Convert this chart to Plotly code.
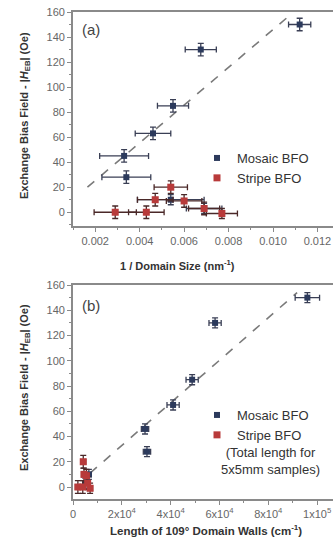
import plotly.graph_objects as go

W, H = 333, 549

# ---- Panel (a): 1 / Domain size ----
a_mosaic_x = [0.0112, 0.00675, 0.0055, 0.0046, 0.0033, 0.0034, 0.0054, 0.0069]
a_mosaic_y = [150, 130, 85, 63, 45, 28, 10, 3]
a_mosaic_xerr = [0.0005, 0.0007, 0.0007, 0.0008, 0.0011, 0.0011, 0.0015, 0.0008]
a_mosaic_yerr = [5, 5, 5, 5, 5, 5, 4, 4]

a_stripe_x = [0.0029, 0.0043, 0.0047, 0.0054, 0.0060, 0.0069, 0.0077]
a_stripe_y = [0, 0, 10, 20, 9, 3, -1]
a_stripe_xerr = [0.00095, 0.0008, 0.0008, 0.00075, 0.0008, 0.0007, 0.0007]
a_stripe_yerr = [5, 5, 5, 5, 5, 5, 4]

fit_a_x = [0.00165, 0.0106]
fit_a_y = [20, 155]

a_xticks = [0.002, 0.004, 0.006, 0.008, 0.010, 0.012]
a_xticklabels = ["0.002", "0.004", "0.006", "0.008", "0.010", "0.012"]
yticks = [0, 20, 40, 60, 80, 100, 120, 140, 160]

# ---- Panel (b): length of 109 deg domain walls ----
b_mosaic_x = [96000, 58200, 48800, 41000, 29500, 30300, 6500, 5000]
b_mosaic_y = [150, 130, 85, 65, 46, 28, 10, 3]
b_mosaic_xerr = [5000, 2500, 2500, 2500, 1500, 1500, 1000, 1000]
b_mosaic_yerr = [4, 4, 4, 4, 4, 4, 4, 4]

b_stripe_x = [2000, 4000, 4500, 4200, 5500, 6000, 7000]
b_stripe_y = [0, 0, 10, 20, 9, 3, -1]
b_stripe_xerr = [1000, 1000, 1000, 1000, 1000, 1000, 1000]
b_stripe_yerr = [5, 5, 5, 5, 5, 5, 4]

fit_b_x = [7000, 91800]
fit_b_y = [11, 154]

b_xticks = [0, 20000, 40000, 60000, 80000, 100000]
b_xticklabels = ["0", "2x10<sup>4</sup>", "4x10<sup>4</sup>", "6x10<sup>4</sup>",
                 "8x10<sup>4</sup>", "1x10<sup>5</sup>"]

MOSAIC = "#2c3a5c"
STRIPE = "#b83a3a"
FONT = "Liberation Sans, Arial, sans-serif"

fig = go.Figure()

def add_panel(xa, ya, mx, my, mxe, mye, sx, sy, sxe, sye, fx, fy, legend):
    fig.add_trace(go.Scatter(x=fx, y=fy, mode="lines", xaxis=xa, yaxis=ya,
                             line=dict(color="#7a7a7a", width=1.6, dash="dash"),
                             showlegend=False, hoverinfo="skip"))
    fig.add_trace(go.Scatter(x=mx, y=my, mode="markers", xaxis=xa, yaxis=ya,
                             name="Mosaic BFO", legend=legend,
                             marker=dict(symbol="square", size=6, color=MOSAIC),
                             error_x=dict(type="data", array=mxe, color="#3a3f55",
                                          thickness=1.3, width=3),
                             error_y=dict(type="data", array=mye, color="#3a3f55",
                                          thickness=1.3, width=3)))
    fig.add_trace(go.Scatter(x=sx, y=sy, mode="markers", xaxis=xa, yaxis=ya,
                             name="Stripe BFO", legend=legend,
                             marker=dict(symbol="square", size=7, color=STRIPE),
                             error_x=dict(type="data", array=sxe, color="#4a2828",
                                          thickness=1.3, width=3),
                             error_y=dict(type="data", array=sye, color="#4a2828",
                                          thickness=1.3, width=3)))

add_panel("x", "y", a_mosaic_x, a_mosaic_y, a_mosaic_xerr, a_mosaic_yerr,
          a_stripe_x, a_stripe_y, a_stripe_xerr, a_stripe_yerr, fit_a_x, fit_a_y, "legend")
add_panel("x2", "y2", b_mosaic_x, b_mosaic_y, b_mosaic_xerr, b_mosaic_yerr,
          b_stripe_x, b_stripe_y, b_stripe_xerr, b_stripe_yerr, fit_b_x, fit_b_y, "legend2")

x0 = 73 / W
def ydom(top, bot):
    return [1 - bot / H, 1 - top / H]

axis_common = dict(showline=True, linecolor="#8a8a8a", linewidth=1.8,
                   ticks="outside", ticklen=4, tickwidth=1.2, tickcolor="#8a8a8a",
                   showgrid=False, zeroline=False, automargin=False,
                   tickfont=dict(family=FONT, size=11, color="#666666"))

fig.update_layout(
    width=W, height=H, margin=dict(l=0, r=0, t=0, b=0),
    paper_bgcolor="white", plot_bgcolor="white",
    font=dict(family=FONT, color="#333333"),
    xaxis=dict(domain=[x0, 1], range=[0.001, 0.0127], tickvals=a_xticks,
               ticktext=a_xticklabels, anchor="y", mirror=True,
               minor=dict(ticks="outside", ticklen=2, tickcolor="#8a8a8a", dtick=0.001),
               **axis_common),
    yaxis=dict(domain=ydom(12, 226), range=[-11, 160], tickvals=yticks, anchor="x",
               mirror=False,
               minor=dict(ticks="outside", ticklen=2, tickcolor="#8a8a8a", dtick=10),
               **axis_common),
    xaxis2=dict(domain=[x0, 1], range=[0, 106500], tickvals=b_xticks,
                ticktext=b_xticklabels, anchor="y2", mirror=True,
                minor=dict(ticks="outside", ticklen=2, tickcolor="#8a8a8a", dtick=10000),
                **axis_common),
    yaxis2=dict(domain=ydom(285, 499), range=[-9.5, 160], tickvals=yticks, anchor="x2",
                mirror=False,
                minor=dict(ticks="outside", ticklen=2, tickcolor="#8a8a8a", dtick=10),
                **axis_common),
    legend=dict(x=197 / W, y=1 - 143 / H, xanchor="left", yanchor="top",
                bgcolor="rgba(0,0,0,0)", font=dict(family=FONT, size=13, color="#333333"),
                tracegroupgap=0, itemsizing="trace"),
    legend2=dict(x=197 / W, y=1 - 400 / H, xanchor="left", yanchor="top",
                 bgcolor="rgba(0,0,0,0)", font=dict(family=FONT, size=13, color="#333333"),
                 tracegroupgap=0, itemsizing="trace"),
)

ann = [
    dict(text="(a)", x=80 / W, y=1 - 30 / H, xanchor="left", yanchor="middle",
         font=dict(size=15, color="#444444")),
    dict(text="(b)", x=80 / W, y=1 - 305 / H, xanchor="left", yanchor="middle",
         font=dict(size=15, color="#444444")),
    dict(text="<b>Exchange Bias Field - |<i>H</i><sub>EB</sub>| (Oe)</b>", x=25 / W,
         y=1 - 116 / H, textangle=-90, xanchor="center", yanchor="middle",
         font=dict(size=11, color="#333333")),
    dict(text="<b>Exchange Bias Field - |<i>H</i><sub>EB</sub>| (Oe)</b>", x=25 / W,
         y=1 - 388 / H, textangle=-90, xanchor="center", yanchor="middle",
         font=dict(size=11, color="#333333")),
    dict(text="<b>1 / Domain Size (nm<sup>-1</sup>)</b>", x=177 / W, y=1 - 265 / H,
         xanchor="center", yanchor="middle", font=dict(size=11, color="#333333")),
    dict(text="<b>Length of 109° Domain Walls (cm<sup>-1</sup>)</b>", x=206 / W,
         y=1 - 530 / H, xanchor="center", yanchor="middle",
         font=dict(size=11.5, color="#333333")),
    dict(text="(Total length for<br>5x5mm samples)", x=270 / W, y=1 - 461 / H,
         xanchor="center", yanchor="middle", align="center",
         font=dict(size=13, color="#333333")),
]
for a in ann:
    a.update(xref="paper", yref="paper", showarrow=False)
    a["font"]["family"] = FONT
fig.update_layout(annotations=ann)

fig.write_html("out.html")
